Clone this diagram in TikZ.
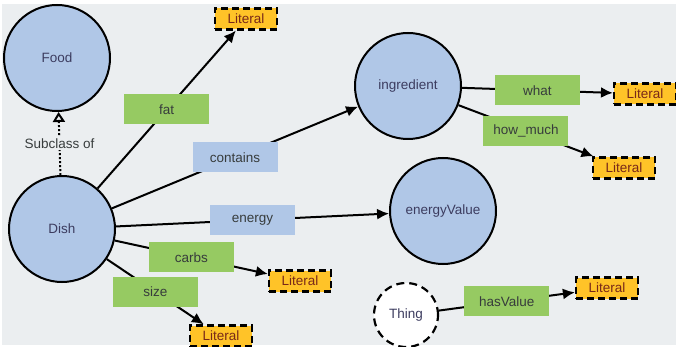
\documentclass[tikz,border=0pt]{standalone}
\usepackage{fontspec}
\setmainfont{Liberation Sans}
\usetikzlibrary{arrows.meta}
\definecolor{bg}{RGB}{235,238,240}
\definecolor{clsfill}{RGB}{176,199,231}
\definecolor{dpfill}{RGB}{150,202,98}
\definecolor{opfill}{RGB}{176,199,231}
\definecolor{litfill}{RGB}{255,195,40}
\definecolor{clstext}{RGB}{60,60,95}
\definecolor{littext}{RGB}{120,40,25}
\definecolor{lbltext}{RGB}{55,60,60}
\begin{document}
\begin{tikzpicture}[x=1pt, y=-1pt, font=\fontsize{13.5}{15}\selectfont,
  cls/.style={circle, draw, line width=2pt, fill=clsfill,
              minimum size=106pt, inner sep=0pt, text=clstext},
  lit/.style={draw, line width=2.2pt, dash pattern=on 7pt off 4pt,
              fill=litfill, minimum width=62pt, minimum height=21pt,
              inner sep=0pt, text=littext},
  dprop/.style={fill=dpfill, minimum width=85pt, minimum height=30pt,
                inner sep=0pt, text=lbltext},
  oprop/.style={dprop, fill=opfill},
  arrow/.style={-{Latex[length=12pt,width=11pt]}, line width=2pt}
]
  % background
  \fill[white] (0,0) rectangle (676,347);
  \fill[bg] (2,4) rectangle (676,345);
  \useasboundingbox (0,0) rectangle (676,347);

  \node[cls] (food) at (57,58)   {Food};
  \node[cls] (dish) at (62,229)  {Dish};
  \node[cls] (ingr) at (408,86)  {ingredient};
  \node[cls] (enval) at (443,211) {energyValue};
  \node[cls, fill=white, minimum size=64pt, line width=2.2pt,
        dash pattern=on 8pt off 5pt] (thing) at (406,315) {Thing};

  \node[lit] (l1) at (246,19)  {Literal};
  \node[lit] (l2) at (645,94)  {Literal};
  \node[lit] (l3) at (624,168) {Literal};
  \node[lit] (l4) at (300,281) {Literal};
  \node[lit] (l5) at (221,336) {Literal};
  \node[lit] (l6) at (607,288) {Literal};

  \draw[line width=2pt, dotted, -{Triangle[open,length=10pt,width=12pt]}]
        (dish) -- node[fill=bg, text=lbltext, inner sep=2pt]{Subclass of} (food);
  \draw[arrow] (dish) -- node[dprop]{fat} (l1);
  \draw[arrow] (dish) -- node[oprop]{contains} (ingr);
  \draw[arrow] (dish) -- node[oprop]{energy} (enval);
  \draw[arrow] (dish) -- node[dprop]{carbs} (l4);
  \draw[arrow] (dish) -- node[dprop]{size} (l5);
  \draw[arrow] (ingr) -- node[dprop]{what} (l2);
  \draw[arrow] (ingr) -- node[dprop]{how\_much} (l3);
  \draw[arrow] (thing) -- node[dprop]{hasValue} (l6);
\end{tikzpicture}
\end{document}
